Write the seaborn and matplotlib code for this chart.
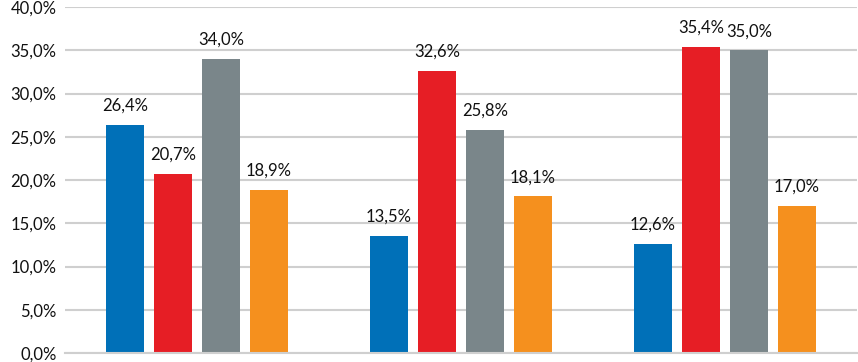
import matplotlib
matplotlib.use("Agg")
import matplotlib.pyplot as plt
import pandas as pd
import seaborn as sns
from matplotlib.ticker import FuncFormatter

groups = ["Grupo 1", "Grupo 2", "Grupo 3"]
series = ["Serie 1", "Serie 2", "Serie 3", "Serie 4"]
values = {
    "Serie 1": [26.4, 13.5, 12.6],
    "Serie 2": [20.7, 32.6, 35.4],
    "Serie 3": [34.0, 25.8, 35.0],
    "Serie 4": [18.9, 18.1, 17.0],
}
colors = ["#0070b8", "#e61e25", "#7a868a", "#f5901e"]

rows = [(g, s, values[s][i]) for s in series for i, g in enumerate(groups)]
df = pd.DataFrame(rows, columns=["group", "series", "value"])

sns.set_style("white")
plt.rcParams["font.family"] = ["Lato", "DejaVu Sans"]

fig = plt.figure(figsize=(8.58, 3.62), dpi=100)
ax = fig.add_axes([65 / 858, 1 - 353 / 362, 792 / 858, 346 / 362])

sns.barplot(data=df, x="group", y="value", hue="series", order=groups,
            hue_order=series, palette=colors, width=0.727, gap=0.21,
            saturation=1, legend=False, linewidth=0, ax=ax)

fmt = lambda v: f"{v:.1f}%".replace(".", ",")
for cont in ax.containers:
    for bar in cont:
        h = bar.get_height()
        ax.annotate(fmt(h), (bar.get_x() + bar.get_width() / 2, h),
                    xytext=(0, 8), textcoords="offset points",
                    ha="center", va="bottom", fontsize=12, color="#111111")

ax.set_ylim(0, 40)
ax.set_xlim(-0.5, 2.5)
ax.set_yticks(range(0, 41, 5))
ax.yaxis.set_major_formatter(FuncFormatter(lambda v, _: fmt(v)))
ax.tick_params(axis="y", labelsize=12, colors="#111111", length=0, pad=6)
ax.set_xticks([])
ax.set_xlabel("")
ax.set_ylabel("")
ax.grid(axis="y", color="#cfcfcf", linewidth=1.5)
ax.set_axisbelow(True)
for side in ["left", "right", "top"]:
    ax.spines[side].set_visible(False)
ax.spines["bottom"].set_color("#cfcfcf")
ax.spines["bottom"].set_linewidth(1.5)

fig.savefig("out.png", dpi=100)
